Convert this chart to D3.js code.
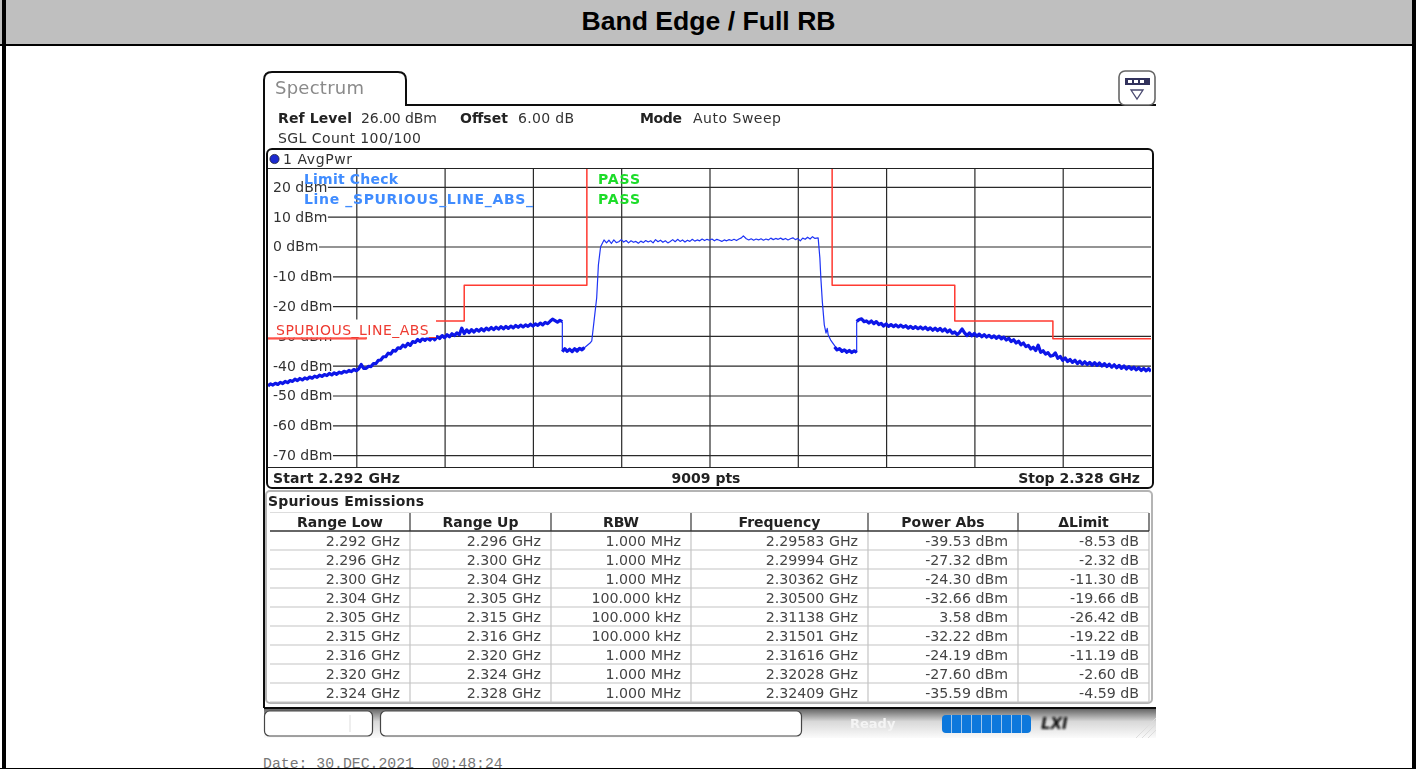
<!DOCTYPE html>
<html>
<head>
<meta charset="utf-8">
<script src="https://cdn.jsdelivr.net/npm/d3@7"></script>
<style>
  html, body { margin: 0; padding: 0; background: #fff; overflow: hidden; }
  svg { display: block; font-family: "DejaVu Sans", sans-serif; }
</style>
</head>
<body>
<svg id="page" width="1416" height="769"></svg>
<script>
// all frequencies in MHz, levels in dBm
var freqTicks = [2295.6, 2299.2, 2302.8, 2306.4, 2310, 2313.6, 2317.2, 2320.8, 2324.4];
var levelTicks = [20, 10, 0, -10, -20, -30, -40, -50, -60, -70];

var limitMHz = [2292, 2296, 2296, 2300, 2300, 2305, 2305, 2315, 2315, 2320, 2320, 2324, 2324, 2328];
var limitDbm = [-31, -31, -25, -25, -13, -13, 30, 30, -13, -13, -25, -25, -31, -31];

var leftSkirtMHz = [
  2292.0, 2292.1, 2292.2, 2292.3, 2292.4, 2292.5, 2292.6, 2292.7, 2292.8, 2292.9,
  2293.0, 2293.1, 2293.2, 2293.3, 2293.4, 2293.5, 2293.6, 2293.7, 2293.8, 2293.9,
  2294.0, 2294.1, 2294.2, 2294.3, 2294.4, 2294.5, 2294.6, 2294.7, 2294.8, 2294.9,
  2295.0, 2295.1, 2295.2, 2295.3, 2295.4, 2295.5, 2295.6, 2295.7, 2295.8, 2295.9,
  2296.0, 2296.1, 2296.2, 2296.3, 2296.4, 2296.5, 2296.6, 2296.7, 2296.8, 2296.9,
  2297.0, 2297.1, 2297.2, 2297.3, 2297.4, 2297.5, 2297.6, 2297.7, 2297.8, 2297.9,
  2298.0, 2298.1, 2298.2, 2298.3, 2298.4, 2298.5, 2298.6, 2298.7, 2298.8, 2298.9,
  2299.0, 2299.1, 2299.2, 2299.3, 2299.4, 2299.5, 2299.6, 2299.7, 2299.8, 2299.9,
  2300.0, 2300.1, 2300.2, 2300.3, 2300.4, 2300.5, 2300.6, 2300.7, 2300.8, 2300.9,
  2301.0, 2301.1, 2301.2, 2301.3, 2301.4, 2301.5, 2301.6, 2301.7, 2301.8, 2301.9,
  2302.0, 2302.1, 2302.2, 2302.3, 2302.4, 2302.5, 2302.6, 2302.7, 2302.8, 2302.9,
  2303.0, 2303.1, 2303.2, 2303.3, 2303.4, 2303.5, 2303.6, 2303.7, 2303.8, 2303.9,
  2304.0];
var leftSkirtDbm = [
  -46.8, -46.1, -46.5, -45.9, -46.3, -45.6, -46.0, -45.3, -45.7, -45.0,
  -45.3, -44.5, -45.0, -44.3, -44.8, -44.1, -44.5, -43.8, -44.2, -43.5,
  -43.9, -43.2, -43.6, -43.0, -43.3, -42.6, -43.1, -42.4, -42.9, -42.2,
  -42.5, -41.9, -42.2, -41.6, -42.0, -41.3, -41.7, -41.0, -39.6, -40.9,
  -40.9, -40.2, -40.3, -39.3, -39.3, -38.2, -38.1, -37.0, -37.0, -35.8,
  -36.1, -34.9, -35.1, -34.0, -34.2, -33.1, -33.7, -32.5, -33.2, -31.9,
  -32.2, -31.2, -31.9, -30.9, -31.5, -30.7, -31.4, -30.5, -31.3, -30.3,
  -30.9, -29.9, -30.6, -29.6, -30.3, -29.3, -29.9, -29.0, -29.6, -27.4,
  -29.2, -28.0, -28.9, -27.9, -28.7, -27.8, -28.4, -27.6, -28.3, -27.4,
  -28.0, -27.2, -27.9, -27.1, -27.7, -26.9, -27.6, -26.8, -27.5, -26.7,
  -27.3, -26.5, -27.1, -26.4, -27.0, -26.3, -26.8, -26.1, -26.7, -26.0,
  -26.5, -25.7, -26.3, -25.5, -25.9, -25.1, -24.4, -24.9, -25.4, -24.8,
  -25.2];

var leftShelfMHz = [2304.0, 2304.1, 2304.2, 2304.3, 2304.4, 2304.5, 2304.6, 2304.7, 2304.8, 2304.9];
var leftShelfDbm = [-35.3, -34.3, -35.2, -34.5, -35.3, -34.3, -35.1, -34.2, -34.7, -33.9];

var carrierMHz = [2304.0, 2304.0, 2304.9, 2305.13, 2305.2, 2305.29, 2305.4, 2305.47, 2305.56,
  2305.7, 2305.8, 2305.9,
  2306.0, 2306.1, 2306.2, 2306.3, 2306.4, 2306.5, 2306.6, 2306.7, 2306.8, 2306.9,
  2307.0, 2307.1, 2307.2, 2307.3, 2307.4, 2307.5, 2307.6, 2307.7, 2307.8, 2307.9,
  2308.0, 2308.1, 2308.2, 2308.3, 2308.4, 2308.5, 2308.6, 2308.7, 2308.8, 2308.9,
  2309.0, 2309.1, 2309.2, 2309.3, 2309.4, 2309.5, 2309.6, 2309.7, 2309.8, 2309.9,
  2310.0, 2310.1, 2310.2, 2310.3, 2310.4, 2310.5, 2310.6, 2310.7, 2310.8, 2310.9,
  2311.0, 2311.1, 2311.2, 2311.3, 2311.38, 2311.5, 2311.6, 2311.7, 2311.8, 2311.9,
  2312.0, 2312.1, 2312.2, 2312.3, 2312.4, 2312.5, 2312.6, 2312.7, 2312.8, 2312.9,
  2313.0, 2313.1, 2313.2, 2313.3, 2313.4, 2313.5, 2313.6, 2313.7, 2313.8, 2313.9,
  2314.0, 2314.1, 2314.2, 2314.3, 2314.43,
  2314.5, 2314.54, 2314.6, 2314.68, 2314.75, 2314.8, 2314.84, 2314.94, 2315.18, 2316.0, 2316.0];
var carrierDbm = [-25.3, -35.0, -34.0, -32.4, -31.7, -25.2, -17.3, -6.2, -0.1,
  2.2, 1.2, 2.1,
  1.0, 2.2, 1.3, 1.6, 2.3, 1.5, 2.0, 1.2, 1.9, 1.4,
  1.7, 1.1, 1.8, 1.3, 2.0, 1.5, 1.9, 1.2, 2.3, 1.6,
  2.1, 1.4, 1.9, 1.2, 1.7, 2.3, 1.6, 2.4, 1.7, 2.2,
  1.5, 2.1, 1.7, 2.4, 1.8, 2.2, 1.9, 2.5, 2.0, 2.4,
  2.1, 2.5, 1.9, 2.4, 2.1, 1.7, 2.2, 1.9, 2.3, 2.0,
  2.4, 2.0, 2.5, 2.9, 3.58, 2.6, 2.2, 2.6, 2.1, 2.5,
  2.2, 2.6, 2.1, 2.5, 2.2, 2.8, 2.3, 2.7, 2.4, 2.8,
  2.3, 2.7, 2.2, 2.6, 2.9, 2.3, 2.7, 1.9, 2.8, 2.4,
  3.1, 2.5, 3.3, 2.7, 2.9,
  -3.9, -10.6, -18.5, -26.3, -29.1, -27.5, -29.7, -31.4, -34.2, -35.5, -25.2];

var rightShelfMHz = [2315.1, 2315.2, 2315.3, 2315.4, 2315.5, 2315.6, 2315.7, 2315.8, 2315.9, 2316.0];
var rightShelfDbm = [-33.7, -34.7, -34.3, -35.2, -34.7, -35.5, -34.9, -35.6, -35.0, -35.6];

var rightSkirtMHz = [
  2316.0, 2316.1, 2316.2, 2316.3, 2316.4, 2316.5, 2316.6, 2316.7, 2316.8, 2316.9,
  2317.0, 2317.1, 2317.2, 2317.3, 2317.4, 2317.5, 2317.6, 2317.7, 2317.8, 2317.9,
  2318.0, 2318.1, 2318.2, 2318.3, 2318.4, 2318.5, 2318.6, 2318.7, 2318.8, 2318.9,
  2319.0, 2319.1, 2319.2, 2319.3, 2319.4, 2319.5, 2319.6, 2319.7, 2319.8, 2319.9,
  2320.0, 2320.1, 2320.2, 2320.3, 2320.4, 2320.5, 2320.6, 2320.7, 2320.8, 2320.9,
  2321.0, 2321.1, 2321.2, 2321.3, 2321.4, 2321.5, 2321.6, 2321.7, 2321.8, 2321.9,
  2322.0, 2322.1, 2322.2, 2322.3, 2322.4, 2322.5, 2322.6, 2322.7, 2322.8, 2322.9,
  2323.0, 2323.1, 2323.2, 2323.3, 2323.4, 2323.5, 2323.6, 2323.7, 2323.8, 2323.9,
  2324.0, 2324.1, 2324.2, 2324.3, 2324.4, 2324.5, 2324.6, 2324.7, 2324.8, 2324.9,
  2325.0, 2325.1, 2325.2, 2325.3, 2325.4, 2325.5, 2325.6, 2325.7, 2325.8, 2325.9,
  2326.0, 2326.1, 2326.2, 2326.3, 2326.4, 2326.5, 2326.6, 2326.7, 2326.8, 2326.9,
  2327.0, 2327.1, 2327.2, 2327.3, 2327.4, 2327.5, 2327.6, 2327.7, 2327.8, 2327.9,
  2328.0];
var rightSkirtDbm = [
  -25.2, -24.5, -24.3, -25.2, -25.0, -25.7, -25.0, -25.9, -25.2, -26.2,
  -25.8, -26.7, -26.0, -26.8, -26.2, -26.9, -26.3, -27.0, -26.4, -27.1,
  -26.6, -27.4, -26.8, -27.5, -26.9, -27.6, -27.0, -27.7, -27.1, -27.9,
  -27.3, -28.1, -27.4, -28.2, -27.5, -28.4, -27.7, -28.7, -28.0, -29.1,
  -28.7, -29.6, -28.8, -27.7, -29.0, -29.9, -29.0, -30.0, -29.2, -30.1,
  -29.4, -30.3, -29.6, -30.4, -29.8, -30.6, -30.0, -30.8, -30.1, -31.0,
  -30.4, -31.4, -30.8, -31.9, -31.3, -32.4, -31.8, -33.0, -32.4, -33.6,
  -33.2, -34.4, -33.8, -34.9, -33.1, -35.5, -35.0, -36.1, -35.6, -36.8,
  -36.6, -35.7, -37.5, -36.9, -38.2, -37.4, -38.6, -37.9, -38.9, -38.2,
  -39.3, -38.5, -39.5, -38.7, -39.6, -38.9, -39.8, -39.0, -39.9, -39.1,
  -40.1, -39.3, -40.3, -39.5, -40.5, -39.7, -40.7, -39.9, -40.9, -40.1,
  -41.1, -40.3, -41.2, -40.5, -41.4, -40.7, -41.6, -40.9, -41.7, -41.0,
  -41.9];

// spurious emissions table
var tableHeaders = ["Range Low", "Range Up", "RBW", "Frequency", "Power Abs", "\u0394Limit"];
var rangeLow = ["2.292 GHz", "2.296 GHz", "2.300 GHz", "2.304 GHz", "2.305 GHz", "2.315 GHz", "2.316 GHz", "2.320 GHz", "2.324 GHz"];
var rangeUp = ["2.296 GHz", "2.300 GHz", "2.304 GHz", "2.305 GHz", "2.315 GHz", "2.316 GHz", "2.320 GHz", "2.324 GHz", "2.328 GHz"];
var rbw = ["1.000 MHz", "1.000 MHz", "1.000 MHz", "100.000 kHz", "100.000 kHz", "100.000 kHz", "1.000 MHz", "1.000 MHz", "1.000 MHz"];
var peakFreq = ["2.29583 GHz", "2.29994 GHz", "2.30362 GHz", "2.30500 GHz", "2.31138 GHz", "2.31501 GHz", "2.31616 GHz", "2.32028 GHz", "2.32409 GHz"];
var powerAbs = ["-39.53 dBm", "-27.32 dBm", "-24.30 dBm", "-32.66 dBm", "3.58 dBm", "-32.22 dBm", "-24.19 dBm", "-27.60 dBm", "-35.59 dBm"];
var deltaLimit = ["-8.53 dB", "-2.32 dB", "-11.30 dB", "-19.66 dB", "-26.42 dB", "-19.22 dB", "-11.19 dB", "-2.60 dB", "-4.59 dB"];

var plot = {left: 268, right: 1151, top: 169, bottom: 467};
var colEdges = [270, 410, 551, 691, 868, 1018, 1149];

var page = d3.select("#page");
var defs = page.append("defs");

defs.append("filter").attr("id", "soft")
    .attr("x", 0).attr("y", 0).attr("width", 1416).attr("height", 769)
    .attr("filterUnits", "userSpaceOnUse")
  .append("feGaussianBlur").attr("stdDeviation", 0.42);

defs.append("clipPath").attr("id", "plotClip")
  .append("rect")
    .attr("x", plot.left).attr("y", plot.top)
    .attr("width", plot.right - plot.left).attr("height", plot.bottom - plot.top);

var barGrad = defs.append("linearGradient").attr("id", "barGrad")
    .attr("x1", 0).attr("x2", 0).attr("y1", 0).attr("y2", 1);
barGrad.append("stop").attr("offset", "0%").attr("stop-color", "#5c5c5c");
barGrad.append("stop").attr("offset", "45%").attr("stop-color", "#d8d8d8");
barGrad.append("stop").attr("offset", "100%").attr("stop-color", "#fbfbfb");

// html page around the screenshot
page.append("rect").attr("x", 0).attr("y", 0).attr("width", 1416).attr("height", 46).attr("fill", "#bfbfbf");
page.append("rect").attr("x", 0).attr("y", 44).attr("width", 1416).attr("height", 2).attr("fill", "#000");
page.append("rect").attr("x", 2).attr("y", 0).attr("width", 4).attr("height", 769).attr("fill", "#000");
page.append("rect").attr("x", 1412).attr("y", 0).attr("width", 4).attr("height", 769).attr("fill", "#000");
page.append("rect").attr("x", 0).attr("y", 768).attr("width", 1416).attr("height", 1).attr("fill", "#000");
page.append("text")
    .attr("x", 708.5).attr("y", 30)
    .attr("text-anchor", "middle")
    .attr("font-family", "'Liberation Sans', Arial, sans-serif")
    .attr("font-weight", "bold").attr("font-size", 26.6)
    .text("Band Edge / Full RB");

var screen = page.append("g").attr("filter", "url(#soft)");

// opts.len stretches the text to the width it has in the reference
function label(parent, x, y, str, opts) {
  opts = opts || {};
  var t = parent.append("text")
      .attr("x", x).attr("y", y)
      .attr("text-anchor", opts.anchor || "start")
      .attr("font-size", opts.size || 14)
      .attr("font-weight", opts.bold ? "bold" : "normal")
      .attr("fill", opts.fill || "#333")
      .text(str);
  if (opts.len) t.attr("textLength", opts.len).attr("lengthAdjust", "spacing");
  return t;
}

// tab and frames
screen.append("path")
    .attr("d", "M264,708 V80 Q264,72 272,72 H398 Q406,72 406,80 V105 H1156")
    .attr("fill", "none").attr("stroke", "#111").attr("stroke-width", 2);
label(screen, 275, 94, "Spectrum", {size: 18, len: 89, fill: "#8a8a8a"});

// softkey icon
screen.append("rect").attr("x", 1119).attr("y", 71).attr("width", 36).attr("height", 34).attr("rx", 6)
    .attr("fill", "#fff").attr("stroke", "#666").attr("stroke-width", 1.6);
screen.append("rect").attr("x", 1125).attr("y", 78).attr("width", 25).attr("height", 7).attr("fill", "#33305c");
screen.selectAll(".iconCell").data([1128, 1134, 1140]).join("rect")
    .attr("class", "iconCell")
    .attr("x", d => d).attr("y", 80).attr("width", 4).attr("height", 3).attr("fill", "#fff");
screen.append("path").attr("d", "M1131,90 H1143 L1137,99 Z")
    .attr("fill", "none").attr("stroke", "#4a4a70").attr("stroke-width", 1.3);

label(screen, 278, 123, "Ref Level", {bold: true, len: 74, fill: "#222"});
label(screen, 361, 123, "26.00 dBm", {len: 76});
label(screen, 460, 123, "Offset", {bold: true, len: 48, fill: "#222"});
label(screen, 518, 123, "6.00 dB", {len: 56});
label(screen, 640, 123, "Mode", {bold: true, len: 42, fill: "#222"});
label(screen, 693, 123, "Auto Sweep", {len: 88});
label(screen, 278, 143, "SGL Count 100/100", {len: 143});

// diagram frame
screen.append("rect").attr("x", 267).attr("y", 149).attr("width", 886).attr("height", 339).attr("rx", 5)
    .attr("fill", "#fff").attr("stroke", "#111").attr("stroke-width", 2);
screen.append("circle").attr("cx", 274.5).attr("cy", 159).attr("r", 4.6)
    .attr("fill", "#1a2bd0").attr("stroke", "#223").attr("stroke-width", 0.8);
label(screen, 283, 164, "1 AvgPwr", {len: 69});
screen.append("line").attr("x1", 268).attr("x2", 1152).attr("y1", 168.5).attr("y2", 168.5).attr("stroke", "#222");
screen.append("line").attr("x1", 268).attr("x2", 1152).attr("y1", 467.5).attr("y2", 467.5).attr("stroke", "#222");

var xScale = d3.scaleLinear().domain([2292, 2328]).range([plot.left, plot.right]);
var yScale = d3.scaleLinear().domain([26, -74]).range([plot.top, plot.top + 298]);

// grid
screen.append("g")
    .attr("transform", `translate(0,${plot.bottom})`)
    .call(d3.axisBottom(xScale).tickValues(freqTicks).tickSize(-(plot.bottom - plot.top)).tickFormat(""))
    .call(g => g.select(".domain").remove())
    .call(g => g.selectAll("line").attr("stroke", "#2a2a2a").attr("stroke-width", 1.2));

var yAxis = screen.append("g")
    .attr("transform", `translate(${plot.left},0)`)
    .call(d3.axisLeft(yScale).tickValues(levelTicks).tickSize(-(plot.right - plot.left)).tickFormat(d => d + " dBm"))
    .call(g => g.select(".domain").remove())
    .call(g => g.selectAll("line").attr("stroke", "#2a2a2a").attr("stroke-width", 1.2));

yAxis.selectAll("text")
    .attr("x", 5)
    .attr("text-anchor", "start")
    .attr("font-family", "'DejaVu Sans', sans-serif")
    .attr("font-size", 14)
    .attr("fill", "#333");

// labels sit on a white patch that cuts the grid line
yAxis.selectAll(".tick").each(function() {
  var box = d3.select(this).select("text").node().getBBox();
  d3.select(this).insert("rect", "text")
      .attr("x", box.x - 5).attr("y", box.y)
      .attr("width", box.width + 5.5).attr("height", box.height)
      .attr("fill", "#fff");
});

// traces
var lineGen = d3.line()
    .x(d => xScale(d[0]))
    .y(d => yScale(d[1]));

var traces = screen.append("g").attr("clip-path", "url(#plotClip)");

function drawTrace(mhz, dbm, width, color) {
  traces.append("path")
      .datum(mhz.map((f, i) => [f, dbm[i]]))
      .attr("d", lineGen)
      .attr("fill", "none")
      .attr("stroke", color)
      .attr("stroke-width", width)
      .attr("stroke-linejoin", "round");
}

drawTrace(limitMHz, limitDbm, 1.5, "#ff3a30");
drawTrace(carrierMHz, carrierDbm, 1.2, "#1f34f5");
drawTrace(leftSkirtMHz, leftSkirtDbm, 3.2, "#0a14e8");
drawTrace(leftShelfMHz, leftShelfDbm, 3.2, "#0a14e8");
drawTrace(rightShelfMHz, rightShelfDbm, 3.2, "#0a14e8");
drawTrace(rightSkirtMHz, rightSkirtDbm, 3.2, "#0a14e8");

// limit line name
screen.append("rect").attr("x", 268).attr("y", 319.5).attr("width", 168).attr("height", 18).attr("fill", "#fff");
screen.append("line").attr("x1", 268).attr("x2", 367).attr("y1", 338).attr("y2", 338).attr("stroke", "#ff5a50").attr("stroke-width", 1.5);
label(screen, 276, 335, "SPURIOUS_LINE_ABS_", {len: 160, fill: "#ee3a30"});

// limit check
label(screen, 304, 184, "Limit Check", {bold: true, len: 94, fill: "#3f8cff"});
label(screen, 304, 204, "Line _SPURIOUS_LINE_ABS_", {bold: true, len: 229, fill: "#3f8cff"});
label(screen, 598, 184, "PASS", {bold: true, len: 42, fill: "#1fdc2a"});
label(screen, 598, 204, "PASS", {bold: true, len: 42, fill: "#1fdc2a"});

label(screen, 273, 483, "Start 2.292 GHz", {bold: true, len: 127, fill: "#222"});
label(screen, 706, 483, "9009 pts", {bold: true, fill: "#222", anchor: "middle"});
label(screen, 1140, 483, "Stop 2.328 GHz", {bold: true, fill: "#222", anchor: "end"});

// table
screen.append("rect").attr("x", 266).attr("y", 491).attr("width", 886).attr("height", 212).attr("rx", 4)
    .attr("fill", "#fff").attr("stroke", "#b4b4b4").attr("stroke-width", 2);
label(screen, 268, 506, "Spurious Emissions", {bold: true, len: 156, fill: "#222"});

var rowEdge = d3.scaleLinear().domain([0, 9]).range([531, 702]);

screen.selectAll(".rowLine").data(rangeLow).join("line")
    .attr("class", "rowLine")
    .attr("x1", colEdges[0]).attr("x2", colEdges[6])
    .attr("y1", (d, i) => rowEdge(i + 1)).attr("y2", (d, i) => rowEdge(i + 1))
    .attr("stroke", "#c4c4c4").attr("stroke-width", 1.2);
screen.selectAll(".colLine").data(colEdges.slice(1)).join("line")
    .attr("class", "colLine")
    .attr("x1", d => d).attr("x2", d => d)
    .attr("y1", 531).attr("y2", 702)
    .attr("stroke", "#c4c4c4").attr("stroke-width", 1.2);
screen.selectAll(".headTick").data(colEdges.slice(1)).join("line")
    .attr("class", "headTick")
    .attr("x1", d => d).attr("x2", d => d)
    .attr("y1", 513).attr("y2", 531)
    .attr("stroke", "#444").attr("stroke-width", 1.3);
screen.append("line").attr("x1", colEdges[0]).attr("x2", colEdges[6]).attr("y1", 531).attr("y2", 531)
    .attr("stroke", "#333").attr("stroke-width", 1.4);
screen.append("line").attr("x1", colEdges[0]).attr("x2", colEdges[6]).attr("y1", 512.5).attr("y2", 512.5)
    .attr("stroke", "#ddd");

tableHeaders.forEach(function(h, c) {
  label(screen, (colEdges[c] + colEdges[c + 1]) / 2, 527, h, {bold: true, fill: "#222", anchor: "middle"});
});

[rangeLow, rangeUp, rbw, peakFreq, powerAbs, deltaLimit].forEach(function(col, c) {
  screen.selectAll(".col" + c).data(col).join("text")
      .attr("class", "col" + c)
      .attr("x", colEdges[c + 1] - 10)
      .attr("y", (d, i) => rowEdge(i) + 14.5)
      .attr("text-anchor", "end")
      .attr("font-size", 14.2)
      .attr("fill", "#444")
      .text(d => d);
});

// status bar
screen.append("rect").attr("x", 264).attr("y", 708).attr("width", 892).attr("height", 30).attr("fill", "url(#barGrad)");
screen.append("rect").attr("x", 264).attr("y", 707).attr("width", 892).attr("height", 2).attr("fill", "#111");
screen.append("rect").attr("x", 264.5).attr("y", 711).attr("width", 108).attr("height", 25).attr("rx", 5)
    .attr("fill", "#fff").attr("stroke", "#444").attr("stroke-width", 1.2);
screen.append("line").attr("x1", 350).attr("x2", 350).attr("y1", 715).attr("y2", 732).attr("stroke", "#ddd");
screen.append("rect").attr("x", 380.5).attr("y", 711).attr("width", 421).attr("height", 25).attr("rx", 5)
    .attr("fill", "#fff").attr("stroke", "#444").attr("stroke-width", 1.2);
label(screen, 850, 728, "Ready", {bold: true, size: 13, fill: "#f4f4f4"});

screen.append("rect").attr("x", 942).attr("y", 715).attr("width", 89).attr("height", 18).attr("rx", 4).attr("fill", "#0a78dc");
screen.selectAll(".progressGap").data([951, 961, 971, 981, 991, 1001, 1011, 1021]).join("rect")
    .attr("class", "progressGap")
    .attr("x", d => d).attr("y", 715).attr("width", 1).attr("height", 18).attr("fill", "#9cc6ee");

defs.append("filter").attr("id", "smear").append("feGaussianBlur").attr("stdDeviation", 1.1);
page.append("text").attr("x", 1041).attr("y", 729)
    .attr("font-size", 15).attr("font-weight", "bold").attr("font-style", "italic")
    .attr("fill", "#111").attr("filter", "url(#smear)").text("LXI");

screen.selectAll(".hatch").data([1136, 1142, 1148]).join("line")
    .attr("class", "hatch")
    .attr("x1", d => d).attr("y1", 738).attr("x2", 1156).attr("y2", d => 738 - (1156 - d))
    .attr("stroke", "#ddd");

// screenshot footer
page.append("text")
    .attr("x", 263).attr("y", 768)
    .attr("font-family", "'Liberation Mono', monospace")
    .attr("font-size", 14.8)
    .attr("fill", "#777")
    .style("white-space", "pre")
    .text("Date: 30.DEC.2021  00:48:24");
</script>
</body>
</html>
